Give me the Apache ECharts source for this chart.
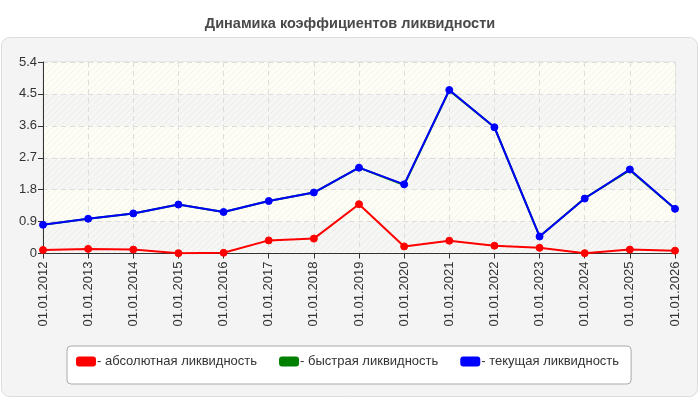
<!DOCTYPE html>
<html lang="ru">
<head>
<meta charset="UTF-8">
<title>Динамика коэффициентов ликвидности</title>
<style>
  html, body { margin: 0; padding: 0; background: #fff; }
  #main { width: 700px; height: 400px; }
</style>
</head>
<body>
<div id="main"></div>
<script src="https://cdn.jsdelivr.net/npm/echarts@6/dist/echarts.min.js"></script>
<script>
  // даты (категории)
  var dates = ['01.01.2012', '01.01.2013', '01.01.2014', '01.01.2015', '01.01.2016',
    '01.01.2017', '01.01.2018', '01.01.2019', '01.01.2020', '01.01.2021',
    '01.01.2022', '01.01.2023', '01.01.2024', '01.01.2025', '01.01.2026'];
  // значения
  var absolute = [0.10, 0.13, 0.11, 0.01, 0.02, 0.37, 0.42, 1.39, 0.20, 0.36, 0.22, 0.16, 0.01, 0.11, 0.08];
  var quick = [0.81, 0.98, 1.13, 1.38, 1.17, 1.48, 1.72, 2.42, 1.93, 4.60, 3.56, 0.48, 1.56, 2.35, 1.26];
  var current = [0.81, 0.98, 1.13, 1.38, 1.17, 1.48, 1.72, 2.42, 1.95, 4.61, 3.56, 0.48, 1.55, 2.37, 1.26];
  var names = ['абсолютная ликвидность', 'быстрая ликвидность', 'текущая ликвидность'];
  var colors = ['#ff0000', '#008000', '#0000ff'];

  // штриховка фона
  function hatch(bg, line) {
    var c = document.createElement('canvas');
    c.width = 6; c.height = 6;
    var ctx = c.getContext('2d');
    ctx.fillStyle = bg;
    ctx.fillRect(0, 0, 6, 6);
    ctx.strokeStyle = line;
    ctx.lineWidth = 1;
    ctx.beginPath();
    ctx.moveTo(0, 6); ctx.lineTo(6, 0);
    ctx.moveTo(-3, 3); ctx.lineTo(3, -3);
    ctx.moveTo(3, 9); ctx.lineTo(9, 3);
    ctx.stroke();
    return { image: c, repeat: 'repeat' };
  }

  var myChart = echarts.init(document.getElementById('main'));
  var option = {
    animation: false,
    title: {
      text: 'Динамика коэффициентов ликвидности',
      left: 'center',
      top: 11,
      textStyle: { fontFamily: 'Liberation Sans', fontSize: 14.5, fontWeight: 'bold', color: '#4a4a4a' }
    },
    graphic: [{
      type: 'rect',
      z: -10,
      shape: { x: 1.5, y: 37.5, width: 696, height: 359, r: 8 },
      style: { fill: '#f4f4f4', stroke: '#dddddd', lineWidth: 1 }
    }],
    legend: {
      left: 67,
      top: 346,
      itemWidth: 18,
      itemHeight: 8,
      itemGap: 22,
      icon: 'roundRect',
      padding: [9, 12, 16, 9],
      backgroundColor: '#fff',
      borderColor: '#aaaaaa',
      borderWidth: 1,
      borderRadius: 4,
      formatter: function (n) { return '- ' + n; },
      textStyle: { fontFamily: 'Liberation Sans', fontSize: 13, color: '#333', padding: [0, 0, 0, -3] },
      data: names
    },
    grid: { left: 43, right: 25, top: 62, bottom: 146.5, show: true, borderColor: '#dddddd', borderWidth: 1 },
    xAxis: {
      type: 'category',
      boundaryGap: false,
      data: dates,
      axisLine: { lineStyle: { color: '#333', width: 1 } },
      axisTick: { alignWithLabel: true, length: 5, lineStyle: { color: '#333' } },
      axisLabel: { rotate: 90, interval: 0, fontFamily: 'Liberation Sans', fontSize: 13, color: '#333', margin: 8 },
      splitLine: { show: true, lineStyle: { color: '#dddddd', type: [5, 4] } }
    },
    yAxis: {
      type: 'value',
      min: 0,
      max: 5.4,
      interval: 0.9,
      axisLine: { show: true, lineStyle: { color: '#333', width: 1 } },
      axisTick: { show: true, length: 5, lineStyle: { color: '#333' } },
      axisLabel: { fontFamily: 'Liberation Sans', fontSize: 13, color: '#333', margin: 6 },
      splitLine: { lineStyle: { color: '#dddddd', type: [5, 4] } },
      splitArea: {
        show: true,
        areaStyle: { color: [hatch('#f6f6f4', '#ececea'), hatch('#fdfdf5', '#f4f4ea')] }
      }
    },
    series: [absolute, quick, current].map(function (vals, i) {
      return {
        name: names[i],
        type: 'line',
        data: vals,
        symbol: 'circle',
        symbolSize: i === 1 ? 5 : 7,
        itemStyle: { color: colors[i], borderColor: colors[i], borderWidth: 1 },
        lineStyle: { color: colors[i], width: 2 },
        z: 2 + i
      };
    })
  };
  myChart.setOption(option);
</script>
</body>
</html>
